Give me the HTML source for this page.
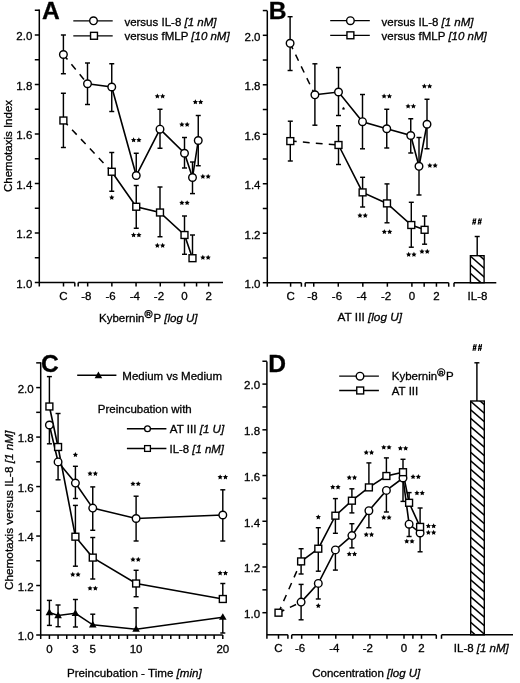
<!DOCTYPE html><html><head><meta charset="utf-8"><style>html,body{margin:0;padding:0;background:#fff;}svg{display:block;will-change:transform;}text{font-family:"Liberation Sans",sans-serif;fill:#000;stroke:#000;stroke-width:0.3px;}</style></head><body>
<svg width="520" height="683" viewBox="0 0 520 683">
<rect width="520" height="683" fill="#fff"/>
<g stroke="#000" stroke-linecap="butt" fill="none">
<line x1="39.30" y1="9.60" x2="39.30" y2="286.50" stroke-width="1.5"/>
<line x1="34.80" y1="282.50" x2="39.30" y2="282.50" stroke-width="1.5"/>
<text x="32.30" y="287.80" text-anchor="end" font-size="11.5">1.0</text>
<line x1="34.80" y1="233.00" x2="39.30" y2="233.00" stroke-width="1.5"/>
<text x="32.30" y="238.30" text-anchor="end" font-size="11.5">1.2</text>
<line x1="34.80" y1="183.50" x2="39.30" y2="183.50" stroke-width="1.5"/>
<text x="32.30" y="188.80" text-anchor="end" font-size="11.5">1.4</text>
<line x1="34.80" y1="134.00" x2="39.30" y2="134.00" stroke-width="1.5"/>
<text x="32.30" y="139.30" text-anchor="end" font-size="11.5">1.6</text>
<line x1="34.80" y1="84.50" x2="39.30" y2="84.50" stroke-width="1.5"/>
<text x="32.30" y="89.80" text-anchor="end" font-size="11.5">1.8</text>
<line x1="34.80" y1="35.00" x2="39.30" y2="35.00" stroke-width="1.5"/>
<text x="32.30" y="40.30" text-anchor="end" font-size="11.5">2.0</text>
<line x1="34.80" y1="257.75" x2="39.30" y2="257.75" stroke-width="1.5"/>
<line x1="34.80" y1="208.25" x2="39.30" y2="208.25" stroke-width="1.5"/>
<line x1="34.80" y1="158.75" x2="39.30" y2="158.75" stroke-width="1.5"/>
<line x1="34.80" y1="109.25" x2="39.30" y2="109.25" stroke-width="1.5"/>
<line x1="34.80" y1="59.75" x2="39.30" y2="59.75" stroke-width="1.5"/>
<line x1="34.80" y1="10.25" x2="39.30" y2="10.25" stroke-width="1.5"/>
<line x1="39.30" y1="282.50" x2="74.80" y2="282.50" stroke-width="1.5"/>
<line x1="74.80" y1="282.50" x2="74.80" y2="286.50" stroke-width="1.5"/>
<line x1="63.50" y1="282.50" x2="63.50" y2="286.50" stroke-width="1.5"/>
<line x1="78.20" y1="282.50" x2="223.00" y2="282.50" stroke-width="1.5"/>
<line x1="78.20" y1="282.50" x2="78.20" y2="286.50" stroke-width="1.5"/>
<line x1="87.66" y1="282.50" x2="87.66" y2="286.50" stroke-width="1.5"/>
<line x1="111.86" y1="282.50" x2="111.86" y2="286.50" stroke-width="1.5"/>
<line x1="136.06" y1="282.50" x2="136.06" y2="286.50" stroke-width="1.5"/>
<line x1="160.26" y1="282.50" x2="160.26" y2="286.50" stroke-width="1.5"/>
<line x1="184.46" y1="282.50" x2="184.46" y2="286.50" stroke-width="1.5"/>
<line x1="196.56" y1="282.50" x2="196.56" y2="286.50" stroke-width="1.5"/>
<line x1="208.66" y1="282.50" x2="208.66" y2="286.50" stroke-width="1.5"/>
<line x1="63.40" y1="35.00" x2="63.40" y2="73.75" stroke-width="1.45"/>
<line x1="60.90" y1="35.00" x2="65.90" y2="35.00" stroke-width="1.45"/>
<line x1="60.90" y1="73.75" x2="65.90" y2="73.75" stroke-width="1.45"/>
<line x1="87.50" y1="63.00" x2="87.50" y2="104.50" stroke-width="1.45"/>
<line x1="85.00" y1="63.00" x2="90.00" y2="63.00" stroke-width="1.45"/>
<line x1="85.00" y1="104.50" x2="90.00" y2="104.50" stroke-width="1.45"/>
<line x1="111.75" y1="63.75" x2="111.75" y2="111.50" stroke-width="1.45"/>
<line x1="109.25" y1="63.75" x2="114.25" y2="63.75" stroke-width="1.45"/>
<line x1="109.25" y1="111.50" x2="114.25" y2="111.50" stroke-width="1.45"/>
<line x1="136.25" y1="153.25" x2="136.25" y2="175.50" stroke-width="1.45"/>
<line x1="133.75" y1="153.25" x2="138.75" y2="153.25" stroke-width="1.45"/>
<line x1="160.00" y1="109.25" x2="160.00" y2="148.25" stroke-width="1.45"/>
<line x1="157.50" y1="109.25" x2="162.50" y2="109.25" stroke-width="1.45"/>
<line x1="157.50" y1="148.25" x2="162.50" y2="148.25" stroke-width="1.45"/>
<line x1="184.50" y1="137.50" x2="184.50" y2="168.00" stroke-width="1.45"/>
<line x1="182.00" y1="137.50" x2="187.00" y2="137.50" stroke-width="1.45"/>
<line x1="182.00" y1="168.00" x2="187.00" y2="168.00" stroke-width="1.45"/>
<line x1="192.50" y1="162.00" x2="192.50" y2="193.60" stroke-width="1.45"/>
<line x1="190.00" y1="162.00" x2="195.00" y2="162.00" stroke-width="1.45"/>
<line x1="190.00" y1="193.60" x2="195.00" y2="193.60" stroke-width="1.45"/>
<line x1="198.25" y1="115.50" x2="198.25" y2="165.75" stroke-width="1.45"/>
<line x1="195.75" y1="115.50" x2="200.75" y2="115.50" stroke-width="1.45"/>
<line x1="195.75" y1="165.75" x2="200.75" y2="165.75" stroke-width="1.45"/>
<line x1="63.40" y1="93.25" x2="63.40" y2="147.50" stroke-width="1.45"/>
<line x1="60.90" y1="93.25" x2="65.90" y2="93.25" stroke-width="1.45"/>
<line x1="60.90" y1="147.50" x2="65.90" y2="147.50" stroke-width="1.45"/>
<line x1="111.75" y1="152.50" x2="111.75" y2="191.25" stroke-width="1.45"/>
<line x1="109.25" y1="152.50" x2="114.25" y2="152.50" stroke-width="1.45"/>
<line x1="109.25" y1="191.25" x2="114.25" y2="191.25" stroke-width="1.45"/>
<line x1="136.25" y1="185.50" x2="136.25" y2="228.25" stroke-width="1.45"/>
<line x1="133.75" y1="185.50" x2="138.75" y2="185.50" stroke-width="1.45"/>
<line x1="133.75" y1="228.25" x2="138.75" y2="228.25" stroke-width="1.45"/>
<line x1="160.00" y1="187.00" x2="160.00" y2="236.75" stroke-width="1.45"/>
<line x1="157.50" y1="187.00" x2="162.50" y2="187.00" stroke-width="1.45"/>
<line x1="157.50" y1="236.75" x2="162.50" y2="236.75" stroke-width="1.45"/>
<line x1="184.50" y1="216.00" x2="184.50" y2="254.30" stroke-width="1.45"/>
<line x1="182.00" y1="216.00" x2="187.00" y2="216.00" stroke-width="1.45"/>
<line x1="182.00" y1="254.30" x2="187.00" y2="254.30" stroke-width="1.45"/>
<line x1="192.50" y1="235.00" x2="192.50" y2="258.20" stroke-width="1.45"/>
<line x1="190.00" y1="235.00" x2="195.00" y2="235.00" stroke-width="1.45"/>
<line x1="63.40" y1="54.50" x2="87.50" y2="83.75" stroke-width="1.5" stroke-dasharray="6.8 6.2" stroke-dashoffset="0.4"/>
<polyline points="87.50,83.75 111.75,87.00 136.25,175.50 160.00,129.20 184.50,153.25 192.50,177.50 198.25,140.50" fill="none" stroke-width="1.6"/>
<line x1="63.40" y1="120.50" x2="111.75" y2="171.75" stroke-width="1.5" stroke-dasharray="6.8 6.2" stroke-dashoffset="0.4"/>
<polyline points="111.75,171.75 136.25,206.75 160.00,212.50 184.50,235.00 192.50,258.20" fill="none" stroke-width="1.6"/>
<circle cx="63.40" cy="54.50" r="3.8" fill="#fff" stroke-width="1.4"/>
<circle cx="87.50" cy="83.75" r="3.8" fill="#fff" stroke-width="1.4"/>
<circle cx="111.75" cy="87.00" r="3.8" fill="#fff" stroke-width="1.4"/>
<circle cx="136.25" cy="175.50" r="3.8" fill="#fff" stroke-width="1.4"/>
<circle cx="160.00" cy="129.20" r="3.8" fill="#fff" stroke-width="1.4"/>
<circle cx="184.50" cy="153.25" r="3.8" fill="#fff" stroke-width="1.4"/>
<circle cx="192.50" cy="177.50" r="3.8" fill="#fff" stroke-width="1.4"/>
<circle cx="198.25" cy="140.50" r="3.8" fill="#fff" stroke-width="1.4"/>
<rect x="59.95" y="117.05" width="6.9" height="6.9" fill="#fff" stroke-width="1.4"/>
<rect x="108.30" y="168.30" width="6.9" height="6.9" fill="#fff" stroke-width="1.4"/>
<rect x="132.80" y="203.30" width="6.9" height="6.9" fill="#fff" stroke-width="1.4"/>
<rect x="156.55" y="209.05" width="6.9" height="6.9" fill="#fff" stroke-width="1.4"/>
<rect x="181.05" y="231.55" width="6.9" height="6.9" fill="#fff" stroke-width="1.4"/>
<rect x="189.05" y="254.75" width="6.9" height="6.9" fill="#fff" stroke-width="1.4"/>
<polygon points="133.60,137.25 134.41,138.89 136.22,139.15 134.91,140.42 135.22,142.22 133.60,141.38 131.98,142.22 132.29,140.42 130.98,139.15 132.79,138.89" fill="#000" stroke="none"/>
<polygon points="138.90,137.25 139.71,138.89 141.52,139.15 140.21,140.42 140.52,142.22 138.90,141.38 137.28,142.22 137.59,140.42 136.28,139.15 138.09,138.89" fill="#000" stroke="none"/>
<polygon points="157.35,93.50 158.16,95.14 159.97,95.40 158.66,96.67 158.97,98.47 157.35,97.62 155.73,98.47 156.04,96.67 154.73,95.40 156.54,95.14" fill="#000" stroke="none"/>
<polygon points="162.65,93.50 163.46,95.14 165.27,95.40 163.96,96.67 164.27,98.47 162.65,97.62 161.03,98.47 161.34,96.67 160.03,95.40 161.84,95.14" fill="#000" stroke="none"/>
<polygon points="181.85,121.75 182.66,123.39 184.47,123.65 183.16,124.92 183.47,126.72 181.85,125.88 180.23,126.72 180.54,124.92 179.23,123.65 181.04,123.39" fill="#000" stroke="none"/>
<polygon points="187.15,121.75 187.96,123.39 189.77,123.65 188.46,124.92 188.77,126.72 187.15,125.88 185.53,126.72 185.84,124.92 184.53,123.65 186.34,123.39" fill="#000" stroke="none"/>
<polygon points="195.35,99.25 196.16,100.89 197.97,101.15 196.66,102.42 196.97,104.22 195.35,103.38 193.73,104.22 194.04,102.42 192.73,101.15 194.54,100.89" fill="#000" stroke="none"/>
<polygon points="200.65,99.25 201.46,100.89 203.27,101.15 201.96,102.42 202.27,104.22 200.65,103.38 199.03,104.22 199.34,102.42 198.03,101.15 199.84,100.89" fill="#000" stroke="none"/>
<polygon points="202.85,173.75 203.66,175.39 205.47,175.65 204.16,176.92 204.47,178.72 202.85,177.88 201.23,178.72 201.54,176.92 200.23,175.65 202.04,175.39" fill="#000" stroke="none"/>
<polygon points="208.15,173.75 208.96,175.39 210.77,175.65 209.46,176.92 209.77,178.72 208.15,177.88 206.53,178.72 206.84,176.92 205.53,175.65 207.34,175.39" fill="#000" stroke="none"/>
<polygon points="111.75,194.75 112.56,196.39 114.37,196.65 113.06,197.92 113.37,199.72 111.75,198.88 110.13,199.72 110.44,197.92 109.13,196.65 110.94,196.39" fill="#000" stroke="none"/>
<polygon points="133.60,232.25 134.41,233.89 136.22,234.15 134.91,235.42 135.22,237.22 133.60,236.38 131.98,237.22 132.29,235.42 130.98,234.15 132.79,233.89" fill="#000" stroke="none"/>
<polygon points="138.90,232.25 139.71,233.89 141.52,234.15 140.21,235.42 140.52,237.22 138.90,236.38 137.28,237.22 137.59,235.42 136.28,234.15 138.09,233.89" fill="#000" stroke="none"/>
<polygon points="157.35,242.75 158.16,244.39 159.97,244.65 158.66,245.92 158.97,247.72 157.35,246.88 155.73,247.72 156.04,245.92 154.73,244.65 156.54,244.39" fill="#000" stroke="none"/>
<polygon points="162.65,242.75 163.46,244.39 165.27,244.65 163.96,245.92 164.27,247.72 162.65,246.88 161.03,247.72 161.34,245.92 160.03,244.65 161.84,244.39" fill="#000" stroke="none"/>
<polygon points="181.85,200.15 182.66,201.79 184.47,202.05 183.16,203.32 183.47,205.12 181.85,204.28 180.23,205.12 180.54,203.32 179.23,202.05 181.04,201.79" fill="#000" stroke="none"/>
<polygon points="187.15,200.15 187.96,201.79 189.77,202.05 188.46,203.32 188.77,205.12 187.15,204.28 185.53,205.12 185.84,203.32 184.53,202.05 186.34,201.79" fill="#000" stroke="none"/>
<polygon points="202.85,254.85 203.66,256.49 205.47,256.75 204.16,258.02 204.47,259.82 202.85,258.98 201.23,259.82 201.54,258.02 200.23,256.75 202.04,256.49" fill="#000" stroke="none"/>
<polygon points="208.15,254.85 208.96,256.49 210.77,256.75 209.46,258.02 209.77,259.82 208.15,258.98 206.53,259.82 206.84,258.02 205.53,256.75 207.34,256.49" fill="#000" stroke="none"/>
<line x1="267.30" y1="10.80" x2="267.30" y2="286.70" stroke-width="1.5"/>
<line x1="262.80" y1="282.70" x2="267.30" y2="282.70" stroke-width="1.5"/>
<text x="260.50" y="288.00" text-anchor="end" font-size="11.5">1.0</text>
<line x1="262.80" y1="233.22" x2="267.30" y2="233.22" stroke-width="1.5"/>
<text x="260.50" y="238.52" text-anchor="end" font-size="11.5">1.2</text>
<line x1="262.80" y1="183.74" x2="267.30" y2="183.74" stroke-width="1.5"/>
<text x="260.50" y="189.04" text-anchor="end" font-size="11.5">1.4</text>
<line x1="262.80" y1="134.26" x2="267.30" y2="134.26" stroke-width="1.5"/>
<text x="260.50" y="139.56" text-anchor="end" font-size="11.5">1.6</text>
<line x1="262.80" y1="84.78" x2="267.30" y2="84.78" stroke-width="1.5"/>
<text x="260.50" y="90.08" text-anchor="end" font-size="11.5">1.8</text>
<line x1="262.80" y1="35.30" x2="267.30" y2="35.30" stroke-width="1.5"/>
<text x="260.50" y="40.60" text-anchor="end" font-size="11.5">2.0</text>
<line x1="262.80" y1="257.96" x2="267.30" y2="257.96" stroke-width="1.5"/>
<line x1="262.80" y1="208.48" x2="267.30" y2="208.48" stroke-width="1.5"/>
<line x1="262.80" y1="159.00" x2="267.30" y2="159.00" stroke-width="1.5"/>
<line x1="262.80" y1="109.52" x2="267.30" y2="109.52" stroke-width="1.5"/>
<line x1="262.80" y1="60.04" x2="267.30" y2="60.04" stroke-width="1.5"/>
<line x1="262.80" y1="10.56" x2="267.30" y2="10.56" stroke-width="1.5"/>
<line x1="267.30" y1="282.70" x2="301.40" y2="282.70" stroke-width="1.5"/>
<line x1="301.40" y1="282.70" x2="301.40" y2="286.70" stroke-width="1.5"/>
<line x1="290.60" y1="282.70" x2="290.60" y2="286.70" stroke-width="1.5"/>
<line x1="305.20" y1="282.70" x2="448.70" y2="282.70" stroke-width="1.5"/>
<line x1="305.20" y1="282.70" x2="305.20" y2="286.70" stroke-width="1.5"/>
<line x1="448.70" y1="282.70" x2="448.70" y2="286.70" stroke-width="1.5"/>
<line x1="313.74" y1="282.70" x2="313.74" y2="286.70" stroke-width="1.5"/>
<line x1="338.28" y1="282.70" x2="338.28" y2="286.70" stroke-width="1.5"/>
<line x1="362.82" y1="282.70" x2="362.82" y2="286.70" stroke-width="1.5"/>
<line x1="387.36" y1="282.70" x2="387.36" y2="286.70" stroke-width="1.5"/>
<line x1="411.90" y1="282.70" x2="411.90" y2="286.70" stroke-width="1.5"/>
<line x1="424.17" y1="282.70" x2="424.17" y2="286.70" stroke-width="1.5"/>
<line x1="436.44" y1="282.70" x2="436.44" y2="286.70" stroke-width="1.5"/>
<line x1="454.00" y1="282.70" x2="496.30" y2="282.70" stroke-width="1.5"/>
<line x1="454.00" y1="282.70" x2="454.00" y2="286.70" stroke-width="1.5"/>
<line x1="290.10" y1="16.70" x2="290.10" y2="70.50" stroke-width="1.45"/>
<line x1="287.60" y1="16.70" x2="292.60" y2="16.70" stroke-width="1.45"/>
<line x1="287.60" y1="70.50" x2="292.60" y2="70.50" stroke-width="1.45"/>
<line x1="314.90" y1="63.80" x2="314.90" y2="125.20" stroke-width="1.45"/>
<line x1="312.40" y1="63.80" x2="317.40" y2="63.80" stroke-width="1.45"/>
<line x1="312.40" y1="125.20" x2="317.40" y2="125.20" stroke-width="1.45"/>
<line x1="338.50" y1="67.50" x2="338.50" y2="115.50" stroke-width="1.45"/>
<line x1="336.00" y1="67.50" x2="341.00" y2="67.50" stroke-width="1.45"/>
<line x1="336.00" y1="115.50" x2="341.00" y2="115.50" stroke-width="1.45"/>
<line x1="362.50" y1="94.50" x2="362.50" y2="148.80" stroke-width="1.45"/>
<line x1="360.00" y1="94.50" x2="365.00" y2="94.50" stroke-width="1.45"/>
<line x1="360.00" y1="148.80" x2="365.00" y2="148.80" stroke-width="1.45"/>
<line x1="386.75" y1="109.25" x2="386.75" y2="148.00" stroke-width="1.45"/>
<line x1="384.25" y1="109.25" x2="389.25" y2="109.25" stroke-width="1.45"/>
<line x1="384.25" y1="148.00" x2="389.25" y2="148.00" stroke-width="1.45"/>
<line x1="410.75" y1="118.75" x2="410.75" y2="153.00" stroke-width="1.45"/>
<line x1="408.25" y1="118.75" x2="413.25" y2="118.75" stroke-width="1.45"/>
<line x1="408.25" y1="153.00" x2="413.25" y2="153.00" stroke-width="1.45"/>
<line x1="419.00" y1="137.50" x2="419.00" y2="195.00" stroke-width="1.45"/>
<line x1="416.50" y1="137.50" x2="421.50" y2="137.50" stroke-width="1.45"/>
<line x1="416.50" y1="195.00" x2="421.50" y2="195.00" stroke-width="1.45"/>
<line x1="427.00" y1="99.25" x2="427.00" y2="148.75" stroke-width="1.45"/>
<line x1="424.50" y1="99.25" x2="429.50" y2="99.25" stroke-width="1.45"/>
<line x1="424.50" y1="148.75" x2="429.50" y2="148.75" stroke-width="1.45"/>
<line x1="290.30" y1="121.20" x2="290.30" y2="161.00" stroke-width="1.45"/>
<line x1="287.80" y1="121.20" x2="292.80" y2="121.20" stroke-width="1.45"/>
<line x1="287.80" y1="161.00" x2="292.80" y2="161.00" stroke-width="1.45"/>
<line x1="338.50" y1="125.75" x2="338.50" y2="164.50" stroke-width="1.45"/>
<line x1="336.00" y1="125.75" x2="341.00" y2="125.75" stroke-width="1.45"/>
<line x1="336.00" y1="164.50" x2="341.00" y2="164.50" stroke-width="1.45"/>
<line x1="362.60" y1="177.30" x2="362.60" y2="207.00" stroke-width="1.45"/>
<line x1="360.10" y1="177.30" x2="365.10" y2="177.30" stroke-width="1.45"/>
<line x1="360.10" y1="207.00" x2="365.10" y2="207.00" stroke-width="1.45"/>
<line x1="387.00" y1="183.90" x2="387.00" y2="222.80" stroke-width="1.45"/>
<line x1="384.50" y1="183.90" x2="389.50" y2="183.90" stroke-width="1.45"/>
<line x1="384.50" y1="222.80" x2="389.50" y2="222.80" stroke-width="1.45"/>
<line x1="411.30" y1="202.30" x2="411.30" y2="247.20" stroke-width="1.45"/>
<line x1="408.80" y1="202.30" x2="413.80" y2="202.30" stroke-width="1.45"/>
<line x1="408.80" y1="247.20" x2="413.80" y2="247.20" stroke-width="1.45"/>
<line x1="424.60" y1="216.00" x2="424.60" y2="244.20" stroke-width="1.45"/>
<line x1="422.10" y1="216.00" x2="427.10" y2="216.00" stroke-width="1.45"/>
<line x1="422.10" y1="244.20" x2="427.10" y2="244.20" stroke-width="1.45"/>
<line x1="290.10" y1="43.30" x2="314.90" y2="94.80" stroke-width="1.5" stroke-dasharray="6.8 6.2" stroke-dashoffset="0.4"/>
<polyline points="314.90,94.80 338.50,92.00 362.50,121.70 386.75,128.75 410.75,135.50 419.00,166.30 427.00,124.25" fill="none" stroke-width="1.6"/>
<line x1="290.30" y1="141.10" x2="338.50" y2="145.00" stroke-width="1.5" stroke-dasharray="6.8 6.2" stroke-dashoffset="0.4"/>
<polyline points="338.50,145.00 362.60,192.40 387.00,203.40 411.30,225.00 424.60,229.80" fill="none" stroke-width="1.6"/>
<circle cx="290.10" cy="43.30" r="3.8" fill="#fff" stroke-width="1.4"/>
<circle cx="314.90" cy="94.80" r="3.8" fill="#fff" stroke-width="1.4"/>
<circle cx="338.50" cy="92.00" r="3.8" fill="#fff" stroke-width="1.4"/>
<circle cx="362.50" cy="121.70" r="3.8" fill="#fff" stroke-width="1.4"/>
<circle cx="386.75" cy="128.75" r="3.8" fill="#fff" stroke-width="1.4"/>
<circle cx="410.75" cy="135.50" r="3.8" fill="#fff" stroke-width="1.4"/>
<circle cx="419.00" cy="166.30" r="3.8" fill="#fff" stroke-width="1.4"/>
<circle cx="427.00" cy="124.25" r="3.8" fill="#fff" stroke-width="1.4"/>
<rect x="286.85" y="137.65" width="6.9" height="6.9" fill="#fff" stroke-width="1.4"/>
<rect x="335.05" y="141.55" width="6.9" height="6.9" fill="#fff" stroke-width="1.4"/>
<rect x="359.15" y="188.95" width="6.9" height="6.9" fill="#fff" stroke-width="1.4"/>
<rect x="383.55" y="199.95" width="6.9" height="6.9" fill="#fff" stroke-width="1.4"/>
<rect x="407.85" y="221.55" width="6.9" height="6.9" fill="#fff" stroke-width="1.4"/>
<rect x="421.15" y="226.35" width="6.9" height="6.9" fill="#fff" stroke-width="1.4"/>
<polygon points="343.50,106.70 344.03,107.77 345.21,107.94 344.36,108.78 344.56,109.96 343.50,109.40 342.44,109.96 342.64,108.78 341.79,107.94 342.97,107.77" fill="#000" stroke="none"/>
<polygon points="384.10,93.50 384.91,95.14 386.72,95.40 385.41,96.67 385.72,98.47 384.10,97.62 382.48,98.47 382.79,96.67 381.48,95.40 383.29,95.14" fill="#000" stroke="none"/>
<polygon points="389.40,93.50 390.21,95.14 392.02,95.40 390.71,96.67 391.02,98.47 389.40,97.62 387.78,98.47 388.09,96.67 386.78,95.40 388.59,95.14" fill="#000" stroke="none"/>
<polygon points="408.10,103.50 408.91,105.14 410.72,105.40 409.41,106.67 409.72,108.47 408.10,107.62 406.48,108.47 406.79,106.67 405.48,105.40 407.29,105.14" fill="#000" stroke="none"/>
<polygon points="413.40,103.50 414.21,105.14 416.02,105.40 414.71,106.67 415.02,108.47 413.40,107.62 411.78,108.47 412.09,106.67 410.78,105.40 412.59,105.14" fill="#000" stroke="none"/>
<polygon points="424.35,83.50 425.16,85.14 426.97,85.40 425.66,86.67 425.97,88.47 424.35,87.62 422.73,88.47 423.04,86.67 421.73,85.40 423.54,85.14" fill="#000" stroke="none"/>
<polygon points="429.65,83.50 430.46,85.14 432.27,85.40 430.96,86.67 431.27,88.47 429.65,87.62 428.03,88.47 428.34,86.67 427.03,85.40 428.84,85.14" fill="#000" stroke="none"/>
<polygon points="429.85,162.75 430.66,164.39 432.47,164.65 431.16,165.92 431.47,167.72 429.85,166.88 428.23,167.72 428.54,165.92 427.23,164.65 429.04,164.39" fill="#000" stroke="none"/>
<polygon points="435.15,162.75 435.96,164.39 437.77,164.65 436.46,165.92 436.77,167.72 435.15,166.88 433.53,167.72 433.84,165.92 432.53,164.65 434.34,164.39" fill="#000" stroke="none"/>
<polygon points="359.95,212.85 360.76,214.49 362.57,214.75 361.26,216.02 361.57,217.82 359.95,216.97 358.33,217.82 358.64,216.02 357.33,214.75 359.14,214.49" fill="#000" stroke="none"/>
<polygon points="365.25,212.85 366.06,214.49 367.87,214.75 366.56,216.02 366.87,217.82 365.25,216.97 363.63,217.82 363.94,216.02 362.63,214.75 364.44,214.49" fill="#000" stroke="none"/>
<polygon points="384.35,229.15 385.16,230.79 386.97,231.05 385.66,232.32 385.97,234.12 384.35,233.28 382.73,234.12 383.04,232.32 381.73,231.05 383.54,230.79" fill="#000" stroke="none"/>
<polygon points="389.65,229.15 390.46,230.79 392.27,231.05 390.96,232.32 391.27,234.12 389.65,233.28 388.03,234.12 388.34,232.32 387.03,231.05 388.84,230.79" fill="#000" stroke="none"/>
<polygon points="408.65,251.85 409.46,253.49 411.27,253.75 409.96,255.02 410.27,256.82 408.65,255.97 407.03,256.82 407.34,255.02 406.03,253.75 407.84,253.49" fill="#000" stroke="none"/>
<polygon points="413.95,251.85 414.76,253.49 416.57,253.75 415.26,255.02 415.57,256.82 413.95,255.97 412.33,256.82 412.64,255.02 411.33,253.75 413.14,253.49" fill="#000" stroke="none"/>
<polygon points="421.95,248.85 422.76,250.49 424.57,250.75 423.26,252.02 423.57,253.82 421.95,252.97 420.33,253.82 420.64,252.02 419.33,250.75 421.14,250.49" fill="#000" stroke="none"/>
<polygon points="427.25,248.85 428.06,250.49 429.87,250.75 428.56,252.02 428.87,253.82 427.25,252.97 425.63,253.82 425.94,252.02 424.63,250.75 426.44,250.49" fill="#000" stroke="none"/>
<clipPath id="hb"><rect x="470.4" y="255.7" width="13.700000000000045" height="27.0"/></clipPath>
<g clip-path="url(#hb)">
<line x1="468.40" y1="228.64" x2="486.10" y2="244.22" stroke-width="1.5"/>
<line x1="468.40" y1="237.24" x2="486.10" y2="252.82" stroke-width="1.5"/>
<line x1="468.40" y1="245.84" x2="486.10" y2="261.42" stroke-width="1.5"/>
<line x1="468.40" y1="254.44" x2="486.10" y2="270.02" stroke-width="1.5"/>
<line x1="468.40" y1="263.04" x2="486.10" y2="278.62" stroke-width="1.5"/>
<line x1="468.40" y1="271.64" x2="486.10" y2="287.22" stroke-width="1.5"/>
<line x1="468.40" y1="280.24" x2="486.10" y2="295.82" stroke-width="1.5"/>
</g>
<rect x="470.4" y="255.7" width="13.700000000000045" height="27.0" fill="none" stroke-width="1.4"/>
<line x1="477.20" y1="236.50" x2="477.20" y2="255.40" stroke-width="1.45"/>
<line x1="474.70" y1="236.50" x2="479.70" y2="236.50" stroke-width="1.45"/>
<line x1="40.70" y1="362.20" x2="40.70" y2="639.00" stroke-width="1.5"/>
<line x1="36.20" y1="635.00" x2="40.70" y2="635.00" stroke-width="1.5"/>
<text x="33.70" y="640.30" text-anchor="end" font-size="11.5">1.0</text>
<line x1="36.20" y1="585.52" x2="40.70" y2="585.52" stroke-width="1.5"/>
<text x="33.70" y="590.82" text-anchor="end" font-size="11.5">1.2</text>
<line x1="36.20" y1="536.04" x2="40.70" y2="536.04" stroke-width="1.5"/>
<text x="33.70" y="541.34" text-anchor="end" font-size="11.5">1.4</text>
<line x1="36.20" y1="486.56" x2="40.70" y2="486.56" stroke-width="1.5"/>
<text x="33.70" y="491.86" text-anchor="end" font-size="11.5">1.6</text>
<line x1="36.20" y1="437.08" x2="40.70" y2="437.08" stroke-width="1.5"/>
<text x="33.70" y="442.38" text-anchor="end" font-size="11.5">1.8</text>
<line x1="36.20" y1="387.60" x2="40.70" y2="387.60" stroke-width="1.5"/>
<text x="33.70" y="392.90" text-anchor="end" font-size="11.5">2.0</text>
<line x1="36.20" y1="610.26" x2="40.70" y2="610.26" stroke-width="1.5"/>
<line x1="36.20" y1="560.78" x2="40.70" y2="560.78" stroke-width="1.5"/>
<line x1="36.20" y1="511.30" x2="40.70" y2="511.30" stroke-width="1.5"/>
<line x1="36.20" y1="461.82" x2="40.70" y2="461.82" stroke-width="1.5"/>
<line x1="36.20" y1="412.34" x2="40.70" y2="412.34" stroke-width="1.5"/>
<line x1="36.20" y1="362.86" x2="40.70" y2="362.86" stroke-width="1.5"/>
<line x1="40.70" y1="635.00" x2="222.80" y2="635.00" stroke-width="1.5"/>
<line x1="49.40" y1="635.00" x2="49.40" y2="639.00" stroke-width="1.5"/>
<line x1="58.07" y1="635.00" x2="58.07" y2="639.00" stroke-width="1.5"/>
<line x1="66.74" y1="635.00" x2="66.74" y2="639.00" stroke-width="1.5"/>
<line x1="75.41" y1="635.00" x2="75.41" y2="639.00" stroke-width="1.5"/>
<line x1="84.08" y1="635.00" x2="84.08" y2="639.00" stroke-width="1.5"/>
<line x1="92.75" y1="635.00" x2="92.75" y2="639.00" stroke-width="1.5"/>
<line x1="101.42" y1="635.00" x2="101.42" y2="639.00" stroke-width="1.5"/>
<line x1="110.09" y1="635.00" x2="110.09" y2="639.00" stroke-width="1.5"/>
<line x1="118.76" y1="635.00" x2="118.76" y2="639.00" stroke-width="1.5"/>
<line x1="127.43" y1="635.00" x2="127.43" y2="639.00" stroke-width="1.5"/>
<line x1="136.10" y1="635.00" x2="136.10" y2="639.00" stroke-width="1.5"/>
<line x1="144.77" y1="635.00" x2="144.77" y2="639.00" stroke-width="1.5"/>
<line x1="153.44" y1="635.00" x2="153.44" y2="639.00" stroke-width="1.5"/>
<line x1="162.11" y1="635.00" x2="162.11" y2="639.00" stroke-width="1.5"/>
<line x1="170.78" y1="635.00" x2="170.78" y2="639.00" stroke-width="1.5"/>
<line x1="179.45" y1="635.00" x2="179.45" y2="639.00" stroke-width="1.5"/>
<line x1="188.12" y1="635.00" x2="188.12" y2="639.00" stroke-width="1.5"/>
<line x1="196.79" y1="635.00" x2="196.79" y2="639.00" stroke-width="1.5"/>
<line x1="205.46" y1="635.00" x2="205.46" y2="639.00" stroke-width="1.5"/>
<line x1="214.13" y1="635.00" x2="214.13" y2="639.00" stroke-width="1.5"/>
<line x1="222.80" y1="635.00" x2="222.80" y2="639.00" stroke-width="1.5"/>
<line x1="49.40" y1="425.00" x2="49.40" y2="443.80" stroke-width="1.45"/>
<line x1="46.90" y1="443.80" x2="51.90" y2="443.80" stroke-width="1.45"/>
<line x1="58.07" y1="461.90" x2="58.07" y2="479.80" stroke-width="1.45"/>
<line x1="55.57" y1="479.80" x2="60.57" y2="479.80" stroke-width="1.45"/>
<line x1="75.41" y1="466.30" x2="75.41" y2="498.50" stroke-width="1.45"/>
<line x1="72.91" y1="466.30" x2="77.91" y2="466.30" stroke-width="1.45"/>
<line x1="72.91" y1="498.50" x2="77.91" y2="498.50" stroke-width="1.45"/>
<line x1="92.75" y1="486.90" x2="92.75" y2="530.30" stroke-width="1.45"/>
<line x1="90.25" y1="486.90" x2="95.25" y2="486.90" stroke-width="1.45"/>
<line x1="90.25" y1="530.30" x2="95.25" y2="530.30" stroke-width="1.45"/>
<line x1="136.10" y1="496.20" x2="136.10" y2="541.00" stroke-width="1.45"/>
<line x1="133.60" y1="496.20" x2="138.60" y2="496.20" stroke-width="1.45"/>
<line x1="133.60" y1="541.00" x2="138.60" y2="541.00" stroke-width="1.45"/>
<line x1="222.80" y1="489.80" x2="222.80" y2="541.00" stroke-width="1.45"/>
<line x1="220.30" y1="489.80" x2="225.30" y2="489.80" stroke-width="1.45"/>
<line x1="220.30" y1="541.00" x2="225.30" y2="541.00" stroke-width="1.45"/>
<line x1="49.40" y1="376.60" x2="49.40" y2="406.50" stroke-width="1.45"/>
<line x1="46.90" y1="376.60" x2="51.90" y2="376.60" stroke-width="1.45"/>
<line x1="58.07" y1="413.50" x2="58.07" y2="447.00" stroke-width="1.45"/>
<line x1="55.57" y1="413.50" x2="60.57" y2="413.50" stroke-width="1.45"/>
<line x1="75.41" y1="505.40" x2="75.41" y2="566.20" stroke-width="1.45"/>
<line x1="72.91" y1="505.40" x2="77.91" y2="505.40" stroke-width="1.45"/>
<line x1="72.91" y1="566.20" x2="77.91" y2="566.20" stroke-width="1.45"/>
<line x1="92.75" y1="537.50" x2="92.75" y2="579.00" stroke-width="1.45"/>
<line x1="90.25" y1="537.50" x2="95.25" y2="537.50" stroke-width="1.45"/>
<line x1="90.25" y1="579.00" x2="95.25" y2="579.00" stroke-width="1.45"/>
<line x1="136.10" y1="570.30" x2="136.10" y2="596.70" stroke-width="1.45"/>
<line x1="133.60" y1="570.30" x2="138.60" y2="570.30" stroke-width="1.45"/>
<line x1="133.60" y1="596.70" x2="138.60" y2="596.70" stroke-width="1.45"/>
<line x1="222.80" y1="583.50" x2="222.80" y2="599.00" stroke-width="1.45"/>
<line x1="220.30" y1="583.50" x2="225.30" y2="583.50" stroke-width="1.45"/>
<line x1="49.40" y1="600.40" x2="49.40" y2="625.40" stroke-width="1.45"/>
<line x1="46.90" y1="600.40" x2="51.90" y2="600.40" stroke-width="1.45"/>
<line x1="46.90" y1="625.40" x2="51.90" y2="625.40" stroke-width="1.45"/>
<line x1="58.07" y1="605.00" x2="58.07" y2="626.70" stroke-width="1.45"/>
<line x1="55.57" y1="605.00" x2="60.57" y2="605.00" stroke-width="1.45"/>
<line x1="55.57" y1="626.70" x2="60.57" y2="626.70" stroke-width="1.45"/>
<line x1="75.41" y1="599.50" x2="75.41" y2="627.00" stroke-width="1.45"/>
<line x1="72.91" y1="599.50" x2="77.91" y2="599.50" stroke-width="1.45"/>
<line x1="72.91" y1="627.00" x2="77.91" y2="627.00" stroke-width="1.45"/>
<line x1="92.75" y1="614.20" x2="92.75" y2="624.80" stroke-width="1.45"/>
<line x1="90.25" y1="614.20" x2="95.25" y2="614.20" stroke-width="1.45"/>
<line x1="136.10" y1="607.80" x2="136.10" y2="629.20" stroke-width="1.45"/>
<line x1="133.60" y1="607.80" x2="138.60" y2="607.80" stroke-width="1.45"/>
<line x1="222.80" y1="617.20" x2="222.80" y2="633.00" stroke-width="1.45"/>
<line x1="220.30" y1="633.00" x2="225.30" y2="633.00" stroke-width="1.45"/>
<polyline points="49.40,425.00 58.07,461.90 75.41,483.10 92.75,508.10 136.10,518.50 222.80,515.00" fill="none" stroke-width="1.6"/>
<polyline points="49.40,406.50 58.07,447.00 75.41,536.70 92.75,557.60 136.10,583.50 222.80,599.00" fill="none" stroke-width="1.6"/>
<polyline points="49.40,612.50 58.07,615.50 75.41,613.30 92.75,624.80 136.10,629.20 222.80,617.20" fill="none" stroke-width="1.6"/>
<circle cx="49.40" cy="425.00" r="3.8" fill="#fff" stroke-width="1.4"/>
<circle cx="58.07" cy="461.90" r="3.8" fill="#fff" stroke-width="1.4"/>
<circle cx="75.41" cy="483.10" r="3.8" fill="#fff" stroke-width="1.4"/>
<circle cx="92.75" cy="508.10" r="3.8" fill="#fff" stroke-width="1.4"/>
<circle cx="136.10" cy="518.50" r="3.8" fill="#fff" stroke-width="1.4"/>
<circle cx="222.80" cy="515.00" r="3.8" fill="#fff" stroke-width="1.4"/>
<rect x="45.95" y="403.05" width="6.9" height="6.9" fill="#fff" stroke-width="1.4"/>
<rect x="54.62" y="443.55" width="6.9" height="6.9" fill="#fff" stroke-width="1.4"/>
<rect x="71.96" y="533.25" width="6.9" height="6.9" fill="#fff" stroke-width="1.4"/>
<rect x="89.30" y="554.15" width="6.9" height="6.9" fill="#fff" stroke-width="1.4"/>
<rect x="132.65" y="580.05" width="6.9" height="6.9" fill="#fff" stroke-width="1.4"/>
<rect x="219.35" y="595.55" width="6.9" height="6.9" fill="#fff" stroke-width="1.4"/>
<polygon points="49.40,608.54 45.60,615.14 53.20,615.14" fill="#000" stroke="none"/>
<polygon points="58.07,611.54 54.27,618.14 61.87,618.14" fill="#000" stroke="none"/>
<polygon points="75.41,609.34 71.61,615.94 79.21,615.94" fill="#000" stroke="none"/>
<polygon points="92.75,620.84 88.95,627.44 96.55,627.44" fill="#000" stroke="none"/>
<polygon points="136.10,625.24 132.30,631.84 139.90,631.84" fill="#000" stroke="none"/>
<polygon points="222.80,613.24 219.00,619.84 226.60,619.84" fill="#000" stroke="none"/>
<polygon points="75.40,452.05 76.21,453.69 78.02,453.95 76.71,455.22 77.02,457.02 75.40,456.18 73.78,457.02 74.09,455.22 72.78,453.95 74.59,453.69" fill="#000" stroke="none"/>
<polygon points="90.05,470.95 90.86,472.59 92.67,472.85 91.36,474.12 91.67,475.92 90.05,475.07 88.43,475.92 88.74,474.12 87.43,472.85 89.24,472.59" fill="#000" stroke="none"/>
<polygon points="95.35,470.95 96.16,472.59 97.97,472.85 96.66,474.12 96.97,475.92 95.35,475.07 93.73,475.92 94.04,474.12 92.73,472.85 94.54,472.59" fill="#000" stroke="none"/>
<polygon points="132.95,481.15 133.76,482.79 135.57,483.05 134.26,484.32 134.57,486.12 132.95,485.27 131.33,486.12 131.64,484.32 130.33,483.05 132.14,482.79" fill="#000" stroke="none"/>
<polygon points="138.25,481.15 139.06,482.79 140.87,483.05 139.56,484.32 139.87,486.12 138.25,485.27 136.63,486.12 136.94,484.32 135.63,483.05 137.44,482.79" fill="#000" stroke="none"/>
<polygon points="220.15,474.45 220.96,476.09 222.77,476.35 221.46,477.62 221.77,479.42 220.15,478.57 218.53,479.42 218.84,477.62 217.53,476.35 219.34,476.09" fill="#000" stroke="none"/>
<polygon points="225.45,474.45 226.26,476.09 228.07,476.35 226.76,477.62 227.07,479.42 225.45,478.57 223.83,479.42 224.14,477.62 222.83,476.35 224.64,476.09" fill="#000" stroke="none"/>
<polygon points="72.75,571.75 73.56,573.39 75.37,573.65 74.06,574.92 74.37,576.72 72.75,575.88 71.13,576.72 71.44,574.92 70.13,573.65 71.94,573.39" fill="#000" stroke="none"/>
<polygon points="78.05,571.75 78.86,573.39 80.67,573.65 79.36,574.92 79.67,576.72 78.05,575.88 76.43,576.72 76.74,574.92 75.43,573.65 77.24,573.39" fill="#000" stroke="none"/>
<polygon points="90.05,585.65 90.86,587.29 92.67,587.55 91.36,588.82 91.67,590.62 90.05,589.77 88.43,590.62 88.74,588.82 87.43,587.55 89.24,587.29" fill="#000" stroke="none"/>
<polygon points="95.35,585.65 96.16,587.29 97.97,587.55 96.66,588.82 96.97,590.62 95.35,589.77 93.73,590.62 94.04,588.82 92.73,587.55 94.54,587.29" fill="#000" stroke="none"/>
<polygon points="132.95,556.75 133.76,558.39 135.57,558.65 134.26,559.92 134.57,561.72 132.95,560.88 131.33,561.72 131.64,559.92 130.33,558.65 132.14,558.39" fill="#000" stroke="none"/>
<polygon points="138.25,556.75 139.06,558.39 140.87,558.65 139.56,559.92 139.87,561.72 138.25,560.88 136.63,561.72 136.94,559.92 135.63,558.65 137.44,558.39" fill="#000" stroke="none"/>
<polygon points="220.15,570.45 220.96,572.09 222.77,572.35 221.46,573.62 221.77,575.42 220.15,574.58 218.53,575.42 218.84,573.62 217.53,572.35 219.34,572.09" fill="#000" stroke="none"/>
<polygon points="225.45,570.45 226.26,572.09 228.07,572.35 226.76,573.62 227.07,575.42 225.45,574.58 223.83,575.42 224.14,573.62 222.83,572.35 224.64,572.09" fill="#000" stroke="none"/>
<line x1="77.20" y1="375.30" x2="116.40" y2="375.30" stroke-width="1.4"/>
<polygon points="98.40,371.54 94.60,378.14 102.20,378.14" fill="#000" stroke="none"/>
<line x1="126.90" y1="428.70" x2="166.40" y2="428.70" stroke-width="1.4"/>
<circle cx="147.50" cy="428.70" r="2.9" fill="#fff" stroke-width="1.3"/>
<line x1="126.90" y1="448.50" x2="166.40" y2="448.50" stroke-width="1.4"/>
<rect x="144.60" y="445.60" width="5.8" height="5.8" fill="#fff" stroke-width="1.3"/>
<line x1="266.90" y1="361.50" x2="266.90" y2="638.80" stroke-width="1.5"/>
<line x1="262.40" y1="612.70" x2="266.90" y2="612.70" stroke-width="1.5"/>
<text x="260.10" y="618.00" text-anchor="end" font-size="11.5">1.0</text>
<line x1="262.40" y1="566.98" x2="266.90" y2="566.98" stroke-width="1.5"/>
<text x="260.10" y="572.28" text-anchor="end" font-size="11.5">1.2</text>
<line x1="262.40" y1="521.26" x2="266.90" y2="521.26" stroke-width="1.5"/>
<text x="260.10" y="526.56" text-anchor="end" font-size="11.5">1.4</text>
<line x1="262.40" y1="475.54" x2="266.90" y2="475.54" stroke-width="1.5"/>
<text x="260.10" y="480.84" text-anchor="end" font-size="11.5">1.6</text>
<line x1="262.40" y1="429.82" x2="266.90" y2="429.82" stroke-width="1.5"/>
<text x="260.10" y="435.12" text-anchor="end" font-size="11.5">1.8</text>
<line x1="262.40" y1="384.10" x2="266.90" y2="384.10" stroke-width="1.5"/>
<text x="260.10" y="389.40" text-anchor="end" font-size="11.5">2.0</text>
<line x1="262.40" y1="589.84" x2="266.90" y2="589.84" stroke-width="1.5"/>
<line x1="262.40" y1="544.12" x2="266.90" y2="544.12" stroke-width="1.5"/>
<line x1="262.40" y1="498.40" x2="266.90" y2="498.40" stroke-width="1.5"/>
<line x1="262.40" y1="452.68" x2="266.90" y2="452.68" stroke-width="1.5"/>
<line x1="262.40" y1="406.96" x2="266.90" y2="406.96" stroke-width="1.5"/>
<line x1="262.40" y1="361.24" x2="266.90" y2="361.24" stroke-width="1.5"/>
<line x1="266.90" y1="634.80" x2="287.90" y2="634.80" stroke-width="1.5"/>
<line x1="287.90" y1="634.80" x2="287.90" y2="638.80" stroke-width="1.5"/>
<line x1="278.50" y1="634.80" x2="278.50" y2="638.80" stroke-width="1.5"/>
<line x1="291.70" y1="634.80" x2="436.30" y2="634.80" stroke-width="1.5"/>
<line x1="291.70" y1="634.80" x2="291.70" y2="638.80" stroke-width="1.5"/>
<line x1="436.30" y1="634.80" x2="436.30" y2="638.80" stroke-width="1.5"/>
<line x1="301.70" y1="634.80" x2="301.70" y2="638.80" stroke-width="1.5"/>
<line x1="318.75" y1="634.80" x2="318.75" y2="638.80" stroke-width="1.5"/>
<line x1="335.80" y1="634.80" x2="335.80" y2="638.80" stroke-width="1.5"/>
<line x1="352.85" y1="634.80" x2="352.85" y2="638.80" stroke-width="1.5"/>
<line x1="369.90" y1="634.80" x2="369.90" y2="638.80" stroke-width="1.5"/>
<line x1="386.95" y1="634.80" x2="386.95" y2="638.80" stroke-width="1.5"/>
<line x1="404.00" y1="634.80" x2="404.00" y2="638.80" stroke-width="1.5"/>
<line x1="412.90" y1="634.80" x2="412.90" y2="638.80" stroke-width="1.5"/>
<line x1="421.50" y1="634.80" x2="421.50" y2="638.80" stroke-width="1.5"/>
<line x1="441.50" y1="634.80" x2="513.00" y2="634.80" stroke-width="1.5"/>
<line x1="441.50" y1="634.80" x2="441.50" y2="638.80" stroke-width="1.5"/>
<line x1="301.10" y1="548.70" x2="301.10" y2="574.00" stroke-width="1.45"/>
<line x1="298.60" y1="548.70" x2="303.60" y2="548.70" stroke-width="1.45"/>
<line x1="298.60" y1="574.00" x2="303.60" y2="574.00" stroke-width="1.45"/>
<line x1="318.30" y1="527.70" x2="318.30" y2="571.20" stroke-width="1.45"/>
<line x1="315.80" y1="527.70" x2="320.80" y2="527.70" stroke-width="1.45"/>
<line x1="315.80" y1="571.20" x2="320.80" y2="571.20" stroke-width="1.45"/>
<line x1="335.40" y1="498.60" x2="335.40" y2="533.30" stroke-width="1.45"/>
<line x1="332.90" y1="498.60" x2="337.90" y2="498.60" stroke-width="1.45"/>
<line x1="332.90" y1="533.30" x2="337.90" y2="533.30" stroke-width="1.45"/>
<line x1="351.90" y1="488.80" x2="351.90" y2="512.90" stroke-width="1.45"/>
<line x1="349.40" y1="488.80" x2="354.40" y2="488.80" stroke-width="1.45"/>
<line x1="349.40" y1="512.90" x2="354.40" y2="512.90" stroke-width="1.45"/>
<line x1="368.90" y1="462.90" x2="368.90" y2="487.40" stroke-width="1.45"/>
<line x1="366.40" y1="462.90" x2="371.40" y2="462.90" stroke-width="1.45"/>
<line x1="386.40" y1="457.90" x2="386.40" y2="476.00" stroke-width="1.45"/>
<line x1="383.90" y1="457.90" x2="388.90" y2="457.90" stroke-width="1.45"/>
<line x1="403.00" y1="459.30" x2="403.00" y2="472.20" stroke-width="1.45"/>
<line x1="400.50" y1="459.30" x2="405.50" y2="459.30" stroke-width="1.45"/>
<line x1="409.10" y1="492.60" x2="409.10" y2="502.80" stroke-width="1.45"/>
<line x1="406.60" y1="492.60" x2="411.60" y2="492.60" stroke-width="1.45"/>
<line x1="420.10" y1="508.00" x2="420.10" y2="526.90" stroke-width="1.45"/>
<line x1="417.60" y1="508.00" x2="422.60" y2="508.00" stroke-width="1.45"/>
<line x1="301.10" y1="584.40" x2="301.10" y2="619.80" stroke-width="1.45"/>
<line x1="298.60" y1="584.40" x2="303.60" y2="584.40" stroke-width="1.45"/>
<line x1="298.60" y1="619.80" x2="303.60" y2="619.80" stroke-width="1.45"/>
<line x1="318.30" y1="583.40" x2="318.30" y2="599.00" stroke-width="1.45"/>
<line x1="315.80" y1="599.00" x2="320.80" y2="599.00" stroke-width="1.45"/>
<line x1="335.40" y1="549.90" x2="335.40" y2="570.10" stroke-width="1.45"/>
<line x1="332.90" y1="570.10" x2="337.90" y2="570.10" stroke-width="1.45"/>
<line x1="351.90" y1="523.70" x2="351.90" y2="547.90" stroke-width="1.45"/>
<line x1="349.40" y1="523.70" x2="354.40" y2="523.70" stroke-width="1.45"/>
<line x1="349.40" y1="547.90" x2="354.40" y2="547.90" stroke-width="1.45"/>
<line x1="368.90" y1="510.70" x2="368.90" y2="527.70" stroke-width="1.45"/>
<line x1="366.40" y1="527.70" x2="371.40" y2="527.70" stroke-width="1.45"/>
<line x1="386.40" y1="490.40" x2="386.40" y2="512.00" stroke-width="1.45"/>
<line x1="383.90" y1="512.00" x2="388.90" y2="512.00" stroke-width="1.45"/>
<line x1="403.00" y1="478.00" x2="403.00" y2="501.40" stroke-width="1.45"/>
<line x1="400.50" y1="501.40" x2="405.50" y2="501.40" stroke-width="1.45"/>
<line x1="409.10" y1="524.20" x2="409.10" y2="536.50" stroke-width="1.45"/>
<line x1="406.60" y1="536.50" x2="411.60" y2="536.50" stroke-width="1.45"/>
<line x1="420.10" y1="533.00" x2="420.10" y2="551.80" stroke-width="1.45"/>
<line x1="417.60" y1="551.80" x2="422.60" y2="551.80" stroke-width="1.45"/>
<line x1="278.50" y1="612.70" x2="301.10" y2="561.40" stroke-width="1.5" stroke-dasharray="6.8 6.2" stroke-dashoffset="0.4"/>
<line x1="278.50" y1="612.70" x2="301.10" y2="602.10" stroke-width="1.5" stroke-dasharray="6.8 6.2" stroke-dashoffset="0.4"/>
<polyline points="301.10,561.40 318.30,548.70 335.40,515.70 351.90,500.70 368.90,487.40 386.40,476.00 403.00,472.20 409.10,502.80 420.10,526.90" fill="none" stroke-width="1.6"/>
<polyline points="301.10,602.10 318.30,583.40 335.40,549.90 351.90,535.60 368.90,510.70 386.40,490.40 403.00,478.00 409.10,524.20 420.10,533.00" fill="none" stroke-width="1.6"/>
<circle cx="301.10" cy="602.10" r="3.8" fill="#fff" stroke-width="1.4"/>
<circle cx="318.30" cy="583.40" r="3.8" fill="#fff" stroke-width="1.4"/>
<circle cx="335.40" cy="549.90" r="3.8" fill="#fff" stroke-width="1.4"/>
<circle cx="351.90" cy="535.60" r="3.8" fill="#fff" stroke-width="1.4"/>
<circle cx="368.90" cy="510.70" r="3.8" fill="#fff" stroke-width="1.4"/>
<circle cx="386.40" cy="490.40" r="3.8" fill="#fff" stroke-width="1.4"/>
<circle cx="403.00" cy="478.00" r="3.8" fill="#fff" stroke-width="1.4"/>
<circle cx="409.10" cy="524.20" r="3.8" fill="#fff" stroke-width="1.4"/>
<circle cx="420.10" cy="533.00" r="3.8" fill="#fff" stroke-width="1.4"/>
<rect x="275.05" y="609.25" width="6.9" height="6.9" fill="#fff" stroke-width="1.4"/>
<rect x="297.65" y="557.95" width="6.9" height="6.9" fill="#fff" stroke-width="1.4"/>
<rect x="314.85" y="545.25" width="6.9" height="6.9" fill="#fff" stroke-width="1.4"/>
<rect x="331.95" y="512.25" width="6.9" height="6.9" fill="#fff" stroke-width="1.4"/>
<rect x="348.45" y="497.25" width="6.9" height="6.9" fill="#fff" stroke-width="1.4"/>
<rect x="365.45" y="483.95" width="6.9" height="6.9" fill="#fff" stroke-width="1.4"/>
<rect x="382.95" y="472.55" width="6.9" height="6.9" fill="#fff" stroke-width="1.4"/>
<rect x="399.55" y="468.75" width="6.9" height="6.9" fill="#fff" stroke-width="1.4"/>
<rect x="405.65" y="499.35" width="6.9" height="6.9" fill="#fff" stroke-width="1.4"/>
<rect x="416.65" y="523.45" width="6.9" height="6.9" fill="#fff" stroke-width="1.4"/>
<polygon points="318.30,514.45 319.11,516.09 320.92,516.35 319.61,517.62 319.92,519.42 318.30,518.58 316.68,519.42 316.99,517.62 315.68,516.35 317.49,516.09" fill="#000" stroke="none"/>
<polygon points="332.75,484.45 333.56,486.09 335.37,486.35 334.06,487.62 334.37,489.42 332.75,488.57 331.13,489.42 331.44,487.62 330.13,486.35 331.94,486.09" fill="#000" stroke="none"/>
<polygon points="338.05,484.45 338.86,486.09 340.67,486.35 339.36,487.62 339.67,489.42 338.05,488.57 336.43,489.42 336.74,487.62 335.43,486.35 337.24,486.09" fill="#000" stroke="none"/>
<polygon points="349.25,474.95 350.06,476.59 351.87,476.85 350.56,478.12 350.87,479.92 349.25,479.07 347.63,479.92 347.94,478.12 346.63,476.85 348.44,476.59" fill="#000" stroke="none"/>
<polygon points="354.55,474.95 355.36,476.59 357.17,476.85 355.86,478.12 356.17,479.92 354.55,479.07 352.93,479.92 353.24,478.12 351.93,476.85 353.74,476.59" fill="#000" stroke="none"/>
<polygon points="366.25,449.85 367.06,451.49 368.87,451.75 367.56,453.02 367.87,454.82 366.25,453.98 364.63,454.82 364.94,453.02 363.63,451.75 365.44,451.49" fill="#000" stroke="none"/>
<polygon points="371.55,449.85 372.36,451.49 374.17,451.75 372.86,453.02 373.17,454.82 371.55,453.98 369.93,454.82 370.24,453.02 368.93,451.75 370.74,451.49" fill="#000" stroke="none"/>
<polygon points="383.75,444.65 384.56,446.29 386.37,446.55 385.06,447.82 385.37,449.62 383.75,448.77 382.13,449.62 382.44,447.82 381.13,446.55 382.94,446.29" fill="#000" stroke="none"/>
<polygon points="389.05,444.65 389.86,446.29 391.67,446.55 390.36,447.82 390.67,449.62 389.05,448.77 387.43,449.62 387.74,447.82 386.43,446.55 388.24,446.29" fill="#000" stroke="none"/>
<polygon points="400.35,445.65 401.16,447.29 402.97,447.55 401.66,448.82 401.97,450.62 400.35,449.77 398.73,450.62 399.04,448.82 397.73,447.55 399.54,447.29" fill="#000" stroke="none"/>
<polygon points="405.65,445.65 406.46,447.29 408.27,447.55 406.96,448.82 407.27,450.62 405.65,449.77 404.03,450.62 404.34,448.82 403.03,447.55 404.84,447.29" fill="#000" stroke="none"/>
<polygon points="413.05,474.05 413.86,475.69 415.67,475.95 414.36,477.22 414.67,479.02 413.05,478.18 411.43,479.02 411.74,477.22 410.43,475.95 412.24,475.69" fill="#000" stroke="none"/>
<polygon points="418.35,474.05 419.16,475.69 420.97,475.95 419.66,477.22 419.97,479.02 418.35,478.18 416.73,479.02 417.04,477.22 415.73,475.95 417.54,475.69" fill="#000" stroke="none"/>
<polygon points="416.95,490.25 417.76,491.89 419.57,492.15 418.26,493.42 418.57,495.22 416.95,494.38 415.33,495.22 415.64,493.42 414.33,492.15 416.14,491.89" fill="#000" stroke="none"/>
<polygon points="422.25,490.25 423.06,491.89 424.87,492.15 423.56,493.42 423.87,495.22 422.25,494.38 420.63,495.22 420.94,493.42 419.63,492.15 421.44,491.89" fill="#000" stroke="none"/>
<polygon points="428.35,523.25 429.16,524.89 430.97,525.15 429.66,526.42 429.97,528.22 428.35,527.38 426.73,528.22 427.04,526.42 425.73,525.15 427.54,524.89" fill="#000" stroke="none"/>
<polygon points="433.65,523.25 434.46,524.89 436.27,525.15 434.96,526.42 435.27,528.22 433.65,527.38 432.03,528.22 432.34,526.42 431.03,525.15 432.84,524.89" fill="#000" stroke="none"/>
<polygon points="428.35,529.85 429.16,531.49 430.97,531.75 429.66,533.02 429.97,534.82 428.35,533.98 426.73,534.82 427.04,533.02 425.73,531.75 427.54,531.49" fill="#000" stroke="none"/>
<polygon points="433.65,529.85 434.46,531.49 436.27,531.75 434.96,533.02 435.27,534.82 433.65,533.98 432.03,534.82 432.34,533.02 431.03,531.75 432.84,531.49" fill="#000" stroke="none"/>
<polygon points="318.30,603.05 319.11,604.69 320.92,604.95 319.61,606.22 319.92,608.02 318.30,607.17 316.68,608.02 316.99,606.22 315.68,604.95 317.49,604.69" fill="#000" stroke="none"/>
<polygon points="349.25,551.25 350.06,552.89 351.87,553.15 350.56,554.42 350.87,556.22 349.25,555.38 347.63,556.22 347.94,554.42 346.63,553.15 348.44,552.89" fill="#000" stroke="none"/>
<polygon points="354.55,551.25 355.36,552.89 357.17,553.15 355.86,554.42 356.17,556.22 354.55,555.38 352.93,556.22 353.24,554.42 351.93,553.15 353.74,552.89" fill="#000" stroke="none"/>
<polygon points="366.25,531.95 367.06,533.59 368.87,533.85 367.56,535.12 367.87,536.92 366.25,536.08 364.63,536.92 364.94,535.12 363.63,533.85 365.44,533.59" fill="#000" stroke="none"/>
<polygon points="371.55,531.95 372.36,533.59 374.17,533.85 372.86,535.12 373.17,536.92 371.55,536.08 369.93,536.92 370.24,535.12 368.93,533.85 370.74,533.59" fill="#000" stroke="none"/>
<polygon points="383.75,514.75 384.56,516.39 386.37,516.65 385.06,517.92 385.37,519.72 383.75,518.88 382.13,519.72 382.44,517.92 381.13,516.65 382.94,516.39" fill="#000" stroke="none"/>
<polygon points="389.05,514.75 389.86,516.39 391.67,516.65 390.36,517.92 390.67,519.72 389.05,518.88 387.43,519.72 387.74,517.92 386.43,516.65 388.24,516.39" fill="#000" stroke="none"/>
<polygon points="406.75,538.65 407.56,540.29 409.37,540.55 408.06,541.82 408.37,543.62 406.75,542.77 405.13,543.62 405.44,541.82 404.13,540.55 405.94,540.29" fill="#000" stroke="none"/>
<polygon points="412.05,538.65 412.86,540.29 414.67,540.55 413.36,541.82 413.67,543.62 412.05,542.77 410.43,543.62 410.74,541.82 409.43,540.55 411.24,540.29" fill="#000" stroke="none"/>
<clipPath id="hd"><rect x="470.7" y="401.0" width="13.600000000000023" height="233.79999999999995"/></clipPath>
<g clip-path="url(#hd)">
<line x1="468.70" y1="374.18" x2="486.30" y2="389.32" stroke-width="1.5"/>
<line x1="468.70" y1="382.68" x2="486.30" y2="397.82" stroke-width="1.5"/>
<line x1="468.70" y1="391.18" x2="486.30" y2="406.32" stroke-width="1.5"/>
<line x1="468.70" y1="399.68" x2="486.30" y2="414.82" stroke-width="1.5"/>
<line x1="468.70" y1="408.18" x2="486.30" y2="423.32" stroke-width="1.5"/>
<line x1="468.70" y1="416.68" x2="486.30" y2="431.82" stroke-width="1.5"/>
<line x1="468.70" y1="425.18" x2="486.30" y2="440.32" stroke-width="1.5"/>
<line x1="468.70" y1="433.68" x2="486.30" y2="448.82" stroke-width="1.5"/>
<line x1="468.70" y1="442.18" x2="486.30" y2="457.32" stroke-width="1.5"/>
<line x1="468.70" y1="450.68" x2="486.30" y2="465.82" stroke-width="1.5"/>
<line x1="468.70" y1="459.18" x2="486.30" y2="474.32" stroke-width="1.5"/>
<line x1="468.70" y1="467.68" x2="486.30" y2="482.82" stroke-width="1.5"/>
<line x1="468.70" y1="476.18" x2="486.30" y2="491.32" stroke-width="1.5"/>
<line x1="468.70" y1="484.68" x2="486.30" y2="499.82" stroke-width="1.5"/>
<line x1="468.70" y1="493.18" x2="486.30" y2="508.32" stroke-width="1.5"/>
<line x1="468.70" y1="501.68" x2="486.30" y2="516.82" stroke-width="1.5"/>
<line x1="468.70" y1="510.18" x2="486.30" y2="525.32" stroke-width="1.5"/>
<line x1="468.70" y1="518.68" x2="486.30" y2="533.82" stroke-width="1.5"/>
<line x1="468.70" y1="527.18" x2="486.30" y2="542.32" stroke-width="1.5"/>
<line x1="468.70" y1="535.68" x2="486.30" y2="550.82" stroke-width="1.5"/>
<line x1="468.70" y1="544.18" x2="486.30" y2="559.32" stroke-width="1.5"/>
<line x1="468.70" y1="552.68" x2="486.30" y2="567.82" stroke-width="1.5"/>
<line x1="468.70" y1="561.18" x2="486.30" y2="576.32" stroke-width="1.5"/>
<line x1="468.70" y1="569.68" x2="486.30" y2="584.82" stroke-width="1.5"/>
<line x1="468.70" y1="578.18" x2="486.30" y2="593.32" stroke-width="1.5"/>
<line x1="468.70" y1="586.68" x2="486.30" y2="601.82" stroke-width="1.5"/>
<line x1="468.70" y1="595.18" x2="486.30" y2="610.32" stroke-width="1.5"/>
<line x1="468.70" y1="603.68" x2="486.30" y2="618.82" stroke-width="1.5"/>
<line x1="468.70" y1="612.18" x2="486.30" y2="627.32" stroke-width="1.5"/>
<line x1="468.70" y1="620.68" x2="486.30" y2="635.82" stroke-width="1.5"/>
<line x1="468.70" y1="629.18" x2="486.30" y2="644.32" stroke-width="1.5"/>
</g>
<rect x="470.7" y="401.0" width="13.600000000000023" height="233.79999999999995" fill="none" stroke-width="1.4"/>
<line x1="476.90" y1="362.80" x2="476.90" y2="401.10" stroke-width="1.45"/>
<line x1="474.40" y1="362.80" x2="479.40" y2="362.80" stroke-width="1.45"/>
<line x1="339.20" y1="376.20" x2="378.90" y2="376.20" stroke-width="1.3"/>
<circle cx="360.00" cy="376.20" r="3.8" fill="#fff" stroke-width="1.4"/>
<line x1="339.20" y1="390.50" x2="378.90" y2="390.50" stroke-width="1.3"/>
<rect x="356.75" y="387.05" width="6.9" height="6.9" fill="#fff" stroke-width="1.4"/>
<line x1="73.30" y1="20.80" x2="112.70" y2="20.80" stroke-width="1.3"/>
<circle cx="93.50" cy="20.80" r="3.8" fill="#fff" stroke-width="1.4"/>
<line x1="73.30" y1="35.80" x2="112.70" y2="35.80" stroke-width="1.3"/>
<rect x="90.55" y="32.35" width="6.9" height="6.9" fill="#fff" stroke-width="1.4"/>
<line x1="330.20" y1="20.70" x2="369.80" y2="20.70" stroke-width="1.3"/>
<circle cx="350.40" cy="20.70" r="3.8" fill="#fff" stroke-width="1.4"/>
<line x1="330.20" y1="35.30" x2="369.80" y2="35.30" stroke-width="1.3"/>
<rect x="346.95" y="31.85" width="6.9" height="6.9" fill="#fff" stroke-width="1.4"/>
</g>
<g>
<text x="41.90" y="19.40" text-anchor="start" font-size="24.6" font-weight="bold">A</text>
<text x="268.80" y="19.30" text-anchor="start" font-size="24.6" font-weight="bold">B</text>
<text x="41.00" y="371.90" text-anchor="start" font-size="24.6" font-weight="bold">C</text>
<text x="268.30" y="371.90" text-anchor="start" font-size="24.6" font-weight="bold">D</text>
<text x="124.40" y="26.20" text-anchor="start" font-size="11.5">versus IL-8 <tspan font-style="italic">[1 nM]</tspan></text>
<text x="124.40" y="40.00" text-anchor="start" font-size="11.5">versus fMLP <tspan font-style="italic">[10 nM]</tspan></text>
<text x="381.50" y="26.20" text-anchor="start" font-size="11.5">versus IL-8 <tspan font-style="italic">[1 nM]</tspan></text>
<text x="381.50" y="40.00" text-anchor="start" font-size="11.5">versus fMLP <tspan font-style="italic">[10 nM]</tspan></text>
<text x="122.30" y="379.60" text-anchor="start" font-size="11.5">Medium vs Medium</text>
<text x="97.80" y="413.00" text-anchor="start" font-size="11.5">Preincubation with</text>
<text x="169.80" y="433.20" text-anchor="start" font-size="11.6">AT III <tspan font-style="italic">[1 U]</tspan></text>
<text x="169.50" y="452.70" text-anchor="start" font-size="11.4">IL-8 <tspan font-style="italic">[1 nM]</tspan></text>
<text x="391.80" y="379.60" text-anchor="start" font-size="11.5">Kybernin</text>
<circle cx="441.2" cy="372.3" r="3.6" fill="none" stroke="#000" stroke-width="1.05"/>
<text x="441.3" y="374.5" text-anchor="middle" font-size="6.2" font-weight="bold">R</text>
<text x="446.00" y="379.60" text-anchor="start" font-size="11.5">P</text>
<text x="391.80" y="394.60" text-anchor="start" font-size="11.5">AT III</text>
<text x="63.50" y="299.80" text-anchor="middle" font-size="11.5">C</text>
<text x="86.36" y="299.80" text-anchor="middle" font-size="11.5">-8</text>
<text x="110.56" y="299.80" text-anchor="middle" font-size="11.5">-6</text>
<text x="134.76" y="299.80" text-anchor="middle" font-size="11.5">-4</text>
<text x="158.96" y="299.80" text-anchor="middle" font-size="11.5">-2</text>
<text x="184.46" y="299.80" text-anchor="middle" font-size="11.5">0</text>
<text x="208.66" y="299.80" text-anchor="middle" font-size="11.5">2</text>
<text x="290.60" y="300.30" text-anchor="middle" font-size="11.5">C</text>
<text x="312.44" y="300.30" text-anchor="middle" font-size="11.5">-8</text>
<text x="336.98" y="300.30" text-anchor="middle" font-size="11.5">-6</text>
<text x="361.52" y="300.30" text-anchor="middle" font-size="11.5">-4</text>
<text x="386.06" y="300.30" text-anchor="middle" font-size="11.5">-2</text>
<text x="411.90" y="300.30" text-anchor="middle" font-size="11.5">0</text>
<text x="436.44" y="300.30" text-anchor="middle" font-size="11.5">2</text>
<text x="477.50" y="300.30" text-anchor="middle" font-size="11.5">IL-8</text>
<text x="49.40" y="652.50" text-anchor="middle" font-size="11.5">0</text>
<text x="75.41" y="652.50" text-anchor="middle" font-size="11.5">3</text>
<text x="92.75" y="652.50" text-anchor="middle" font-size="11.5">5</text>
<text x="136.10" y="652.50" text-anchor="middle" font-size="11.5">10</text>
<text x="222.80" y="652.50" text-anchor="middle" font-size="11.5">20</text>
<text x="278.50" y="652.30" text-anchor="middle" font-size="11.5">C</text>
<text x="300.10" y="652.30" text-anchor="middle" font-size="11.5">-6</text>
<text x="334.30" y="652.30" text-anchor="middle" font-size="11.5">-4</text>
<text x="367.90" y="652.30" text-anchor="middle" font-size="11.5">-2</text>
<text x="404.00" y="652.30" text-anchor="middle" font-size="11.5">0</text>
<text x="421.50" y="652.30" text-anchor="middle" font-size="11.5">2</text>
<text x="453.80" y="652.30" text-anchor="start" font-size="11.5">IL-8 <tspan font-style="italic">[1 nM]</tspan></text>
<text x="99.00" y="321.90" text-anchor="start" font-size="11.5">Kybernin</text>
<circle cx="148.5" cy="314" r="3.6" fill="none" stroke="#000" stroke-width="1.05"/>
<text x="148.6" y="316.2" text-anchor="middle" font-size="6.2" font-weight="bold">R</text>
<text x="153.60" y="321.90" text-anchor="start" font-size="11.5">P <tspan font-style="italic">[log U]</tspan></text>
<text x="337.60" y="321.10" text-anchor="start" font-size="11.8">AT III <tspan font-style="italic">[log U]</tspan></text>
<text x="67.00" y="676.90" text-anchor="start" font-size="11.6">Preincubation - Time <tspan font-style="italic">[min]</tspan></text>
<text x="312.20" y="677.00" text-anchor="start" font-size="11.5">Concentration <tspan font-style="italic">[log U]</tspan></text>
<text transform="translate(11.8,146) rotate(-90)" text-anchor="middle" font-size="11.5">Chemotaxis Index</text>
<text transform="translate(13.0,510.3) rotate(-90)" text-anchor="middle" font-size="11.75">Chemotaxis versus IL-8 <tspan font-style="italic">[1 nM]</tspan></text>
<line x1="474.05" y1="218.35" x2="472.65" y2="224.65" stroke="#000" stroke-width="1.05"/>
<line x1="475.95" y1="218.35" x2="474.55" y2="224.65" stroke="#000" stroke-width="1.05"/>
<line x1="472.60" y1="220.35" x2="476.00" y2="220.35" stroke="#000" stroke-width="1.05"/>
<line x1="472.60" y1="222.65" x2="476.00" y2="222.65" stroke="#000" stroke-width="1.05"/>
<line x1="479.45" y1="218.35" x2="478.05" y2="224.65" stroke="#000" stroke-width="1.05"/>
<line x1="481.35" y1="218.35" x2="479.95" y2="224.65" stroke="#000" stroke-width="1.05"/>
<line x1="478.00" y1="220.35" x2="481.40" y2="220.35" stroke="#000" stroke-width="1.05"/>
<line x1="478.00" y1="222.65" x2="481.40" y2="222.65" stroke="#000" stroke-width="1.05"/>
<line x1="474.35" y1="344.05" x2="472.95" y2="350.95" stroke="#000" stroke-width="1.05"/>
<line x1="476.25" y1="344.05" x2="474.85" y2="350.95" stroke="#000" stroke-width="1.05"/>
<line x1="472.90" y1="346.35" x2="476.30" y2="346.35" stroke="#000" stroke-width="1.05"/>
<line x1="472.90" y1="348.65" x2="476.30" y2="348.65" stroke="#000" stroke-width="1.05"/>
<line x1="479.75" y1="344.05" x2="478.35" y2="350.95" stroke="#000" stroke-width="1.05"/>
<line x1="481.65" y1="344.05" x2="480.25" y2="350.95" stroke="#000" stroke-width="1.05"/>
<line x1="478.30" y1="346.35" x2="481.70" y2="346.35" stroke="#000" stroke-width="1.05"/>
<line x1="478.30" y1="348.65" x2="481.70" y2="348.65" stroke="#000" stroke-width="1.05"/>
</g>
</svg></body></html>
